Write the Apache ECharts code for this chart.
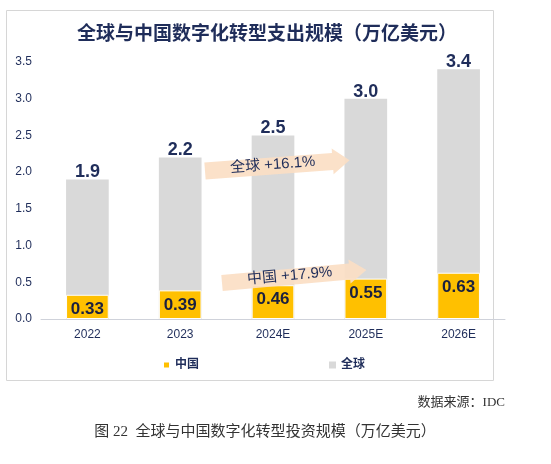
<!DOCTYPE html>
<html>
<head>
<meta charset="utf-8">
<script src="https://cdn.jsdelivr.net/npm/echarts@6/dist/echarts.min.js"></script>
<style>
  html, body { margin: 0; padding: 0; background: #fff; }
  #main { width: 551px; height: 464px; }
</style>
</head>
<body>
<div id="main"></div>
<script>
// data
var categories = ["2022", "2023", "2024E", "2025E", "2026E"];
var globalValues = [1.9, 2.2, 2.5, 3.0, 3.4];
var chinaValues = [0.33, 0.39, 0.46, 0.55, 0.63];
var seriesNames = ["中国", "全球"];
var growthLabels = ["全球 +16.1%", "中国 +17.9%"];

var navy = "#1f2d5a";
var sans = "Liberation Sans, Noto Sans CJK SC, sans-serif";
var serif = "Liberation Serif, Noto Sans CJK SC, serif";

var chart = echarts.init(document.getElementById("main"));

// arrow shape, drawn from its left middle point
function arrow(x, y, rot, len, half, headHalf, headLen, text) {
  return {
    type: "group",
    x: x,
    y: y,
    rotation: rot,
    children: [
      {
        type: "polygon",
        z: 100,
        shape: {
          points: [
            [0, -half], [len - headLen, -half], [len - headLen, -headHalf],
            [len, 0], [len - headLen, headHalf], [len - headLen, half], [0, half]
          ]
        },
        style: { fill: "rgba(251,222,196,0.92)" }
      },
      {
        type: "text",
        z: 101,
        x: 68,
        y: -1,
        style: {
          text: text,
          fill: navy,
          font: "15px " + sans,
          align: "center",
          verticalAlign: "middle"
        }
      }
    ]
  };
}

var option = {
  backgroundColor: "#fff",
  title: [
    {
      text: "全球与中国数字化转型支出规模（万亿美元）",
      left: 262,
      textAlign: "center",
      top: 20,
      textStyle: { color: navy, fontSize: 19, fontWeight: "bold", fontFamily: sans }
    },
    {
      text: "数据来源：IDC",
      right: 41,
      top: 391,
      textStyle: { color: "#333", fontSize: 13, fontWeight: "normal", fontFamily: serif }
    },
    {
      text: "图 22  全球与中国数字化转型投资规模（万亿美元）",
      left: 260,
      textAlign: "center",
      top: 420,
      textStyle: { color: "#333", fontSize: 15, fontWeight: "normal", fontFamily: serif }
    }
  ],
  legend: {
    data: seriesNames,
    left: 157,
    top: 354,
    itemGap: 130,
    itemWidth: 7,
    itemHeight: 7,
    icon: "rect",
    textStyle: { color: navy, fontSize: 12, fontWeight: "bold", fontFamily: sans }
  },
  grid: { left: 41, right: 46, top: 62, bottom: 145 },
  xAxis: {
    type: "category",
    data: categories,
    axisLine: { lineStyle: { color: "#cfd2da", width: 1 } },
    axisTick: { show: false },
    axisLabel: { color: navy, fontSize: 12, margin: 10, fontFamily: sans }
  },
  yAxis: {
    type: "value",
    min: 0,
    max: 3.5,
    interval: 0.5,
    splitLine: { show: false },
    axisLine: { show: false },
    axisTick: { show: false },
    axisLabel: {
      color: navy,
      fontSize: 12,
      margin: 9,
      fontFamily: sans,
      formatter: function (v) { return v.toFixed(1); }
    }
  },
  series: [
    {
      name: "全球",
      type: "bar",
      data: globalValues,
      barWidth: "46%",
      itemStyle: { color: "#d9d9d9" },
      label: {
        show: true,
        position: "top",
        distance: -2,
        color: navy,
        fontSize: 18,
        fontWeight: "bold",
        fontFamily: sans,
        formatter: function (p) { return p.value.toFixed(1); }
      }
    },
    {
      name: "中国",
      type: "bar",
      data: chinaValues,
      barWidth: "46%",
      barGap: "-100%",
      itemStyle: { color: "#ffc000", borderColor: "#fff", borderWidth: 1 },
      label: {
        show: true,
        position: "insideTop",
        distance: 6,
        color: "#1a2040",
        fontSize: 17,
        fontWeight: "bold",
        fontFamily: sans,
        formatter: function (p) { return p.value.toFixed(2); }
      }
    }
  ],
  graphic: [
    {
      type: "rect",
      shape: { x: 6.5, y: 10.5, width: 487, height: 370 },
      style: { fill: "none", stroke: "#d6d6d6", lineWidth: 1 },
      z: -1
    },
    arrow(205, 171, 0.075, 145, 8.5, 13, 17, growthLabels[0]),
    arrow(222, 283, 0.09, 145, 8, 12, 17, growthLabels[1])
  ]
};

option && chart.setOption(option);
</script>
</body>
</html>
